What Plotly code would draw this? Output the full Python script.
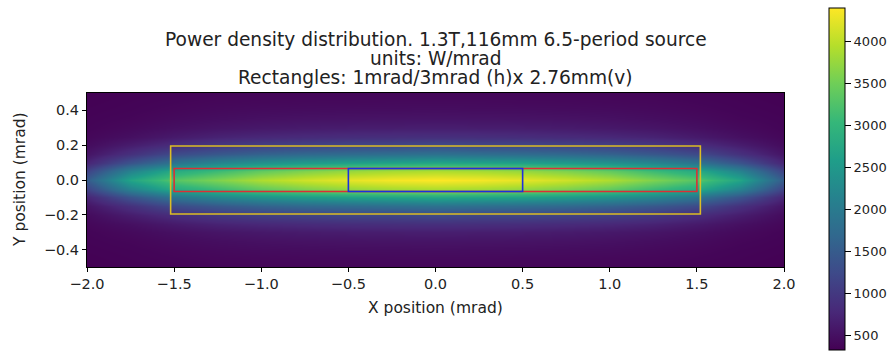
import plotly.graph_objects as go

# ---- data ----
x_mrad = [-2.0, -1.75, -1.5, -1.25, -1.0, -0.75, -0.5, -0.25, 0.0,
          0.25, 0.5, 0.75, 1.0, 1.25, 1.5, 1.75, 2.0]
y_mrad = [-0.5, -0.45, -0.4, -0.35, -0.3, -0.25, -0.2, -0.15, -0.1, -0.05, 0.0,
          0.05, 0.1, 0.15, 0.2, 0.25, 0.3, 0.35, 0.4, 0.45, 0.5]

row_m050 = [330, 350, 360, 380, 390, 390, 400, 400, 400, 400, 400, 390, 390, 380, 360, 350, 330]
row_m045 = [340, 360, 380, 400, 410, 420, 420, 430, 430, 430, 420, 420, 410, 400, 380, 360, 340]
row_m040 = [350, 370, 400, 430, 450, 460, 470, 470, 480, 470, 470, 460, 450, 430, 400, 370, 350]
row_m035 = [360, 390, 440, 480, 510, 530, 540, 550, 550, 550, 540, 530, 510, 480, 440, 390, 360]
row_m030 = [370, 430, 500, 560, 600, 630, 650, 660, 670, 660, 650, 630, 600, 560, 500, 430, 370]
row_m025 = [400, 500, 620, 720, 780, 820, 850, 870, 880, 870, 850, 820, 780, 720, 620, 500, 400]
row_m020 = [450, 650, 850, 1000, 1100, 1150, 1200, 1200, 1250, 1200, 1200, 1150, 1100, 1000, 850, 650, 450]
row_m015 = [550, 900, 1250, 1450, 1600, 1700, 1750, 1800, 1850, 1800, 1750, 1700, 1600, 1450, 1250, 900, 550]
row_m010 = [750, 1400, 1900, 2200, 2400, 2550, 2650, 2700, 2750, 2700, 2650, 2550, 2400, 2200, 1900, 1400, 750]
row_m005 = [1150, 2150, 2800, 3100, 3400, 3600, 3750, 3850, 3900, 3850, 3750, 3600, 3400, 3100, 2800, 2150, 1150]
row_000 = [1500, 2700, 3300, 3600, 3900, 4100, 4250, 4350, 4400, 4350, 4250, 4100, 3900, 3600, 3300, 2700, 1500]
row_p005 = [1150, 2150, 2800, 3100, 3400, 3600, 3750, 3850, 3900, 3850, 3750, 3600, 3400, 3100, 2800, 2150, 1150]
row_p010 = [750, 1400, 1900, 2200, 2400, 2550, 2650, 2700, 2750, 2700, 2650, 2550, 2400, 2200, 1900, 1400, 750]
row_p015 = [550, 900, 1250, 1450, 1600, 1700, 1750, 1800, 1850, 1800, 1750, 1700, 1600, 1450, 1250, 900, 550]
row_p020 = [450, 650, 850, 1000, 1100, 1150, 1200, 1200, 1250, 1200, 1200, 1150, 1100, 1000, 850, 650, 450]
row_p025 = [400, 500, 620, 720, 780, 820, 850, 870, 880, 870, 850, 820, 780, 720, 620, 500, 400]
row_p030 = [370, 430, 500, 560, 600, 630, 650, 660, 670, 660, 650, 630, 600, 560, 500, 430, 370]
row_p035 = [360, 390, 440, 480, 510, 530, 540, 550, 550, 550, 540, 530, 510, 480, 440, 390, 360]
row_p040 = [350, 370, 400, 430, 450, 460, 470, 470, 480, 470, 470, 460, 450, 430, 400, 370, 350]
row_p045 = [340, 360, 380, 400, 410, 420, 420, 430, 430, 430, 420, 420, 410, 400, 380, 360, 340]
row_p050 = [330, 350, 360, 380, 390, 390, 400, 400, 400, 400, 400, 390, 390, 380, 360, 350, 330]

power_density = [row_m050, row_m045, row_m040, row_m035, row_m030, row_m025, row_m020,
                 row_m015, row_m010, row_m005, row_000, row_p005, row_p010, row_p015,
                 row_p020, row_p025, row_p030, row_p035, row_p040, row_p045, row_p050]

colorbar_ticks = [500, 1000, 1500, 2000, 2500, 3000, 3500, 4000]
x_ticks = [-2.0, -1.5, -1.0, -0.5, 0.0, 0.5, 1.0, 1.5, 2.0]
x_ticktext = ["\u22122.0", "\u22121.5", "\u22121.0", "\u22120.5", "0.0", "0.5", "1.0", "1.5", "2.0"]
y_ticks = [-0.4, -0.2, 0.0, 0.2, 0.4]
y_ticktext = ["\u22120.4", "\u22120.2", "0.0", "0.2", "0.4"]

# rectangles: (x0, x1, y0, y1, colour)
rect_outer = (-1.52, 1.52, -0.195, 0.195, "#dcbc24")
rect_red = (-1.5, 1.5, -0.066, 0.066, "#dc2f36")
rect_blue = (-0.5, 0.5, -0.066, 0.066, "#1c2fe0")

title_lines = ["Power density distribution. 1.3T,116mm 6.5-period source",
               "units: W/mrad",
               "Rectangles: 1mrad/3mrad (h)x 2.76mm(v)"]

FONT = "DejaVu Sans"
TXT = "#222222"
W, H = 895, 354
L, R, T, B = 87, 111, 93, 87
PW, PH = W - L - R, H - T - B

fig = go.Figure()
fig.add_trace(go.Heatmap(
    x=x_mrad, y=y_mrad, z=power_density,
    colorscale="Viridis", zmin=330, zmax=4400, zsmooth="best",
    colorbar=dict(
        tickvals=colorbar_ticks, ticks="outside", ticklen=6, tickcolor="black",
        tickprefix="\u2002",
        thickness=16, lenmode="pixels", len=342,
        x=(829 - L) / PW, xanchor="left", xpad=0,
        y=(H - B - 179) / PH, yanchor="middle", ypad=0,
        outlinewidth=1, outlinecolor="black",
        tickfont=dict(family=FONT, size=13, color=TXT),
    ),
))

for (x0, x1, y0, y1, col) in (rect_outer, rect_red, rect_blue):
    fig.add_shape(type="rect", xref="x", yref="y", x0=x0, x1=x1, y0=y0, y1=y1,
                  line=dict(color=col, width=1.6), fillcolor="rgba(0,0,0,0)")

# three title lines (tight matplotlib-like spacing)
title_centers_px = [39, 58.5, 77.5]
for line, ypx in zip(title_lines, title_centers_px):
    fig.add_annotation(text=line, xref="paper", yref="paper",
                       x=(435.5 - L) / PW, y=(H - B - ypx) / PH,
                       xanchor="center", yanchor="middle", showarrow=False,
                       font=dict(family=FONT, size=18.6, color=TXT))

# axis titles
fig.add_annotation(text="X position (mrad)", xref="paper", yref="paper",
                   x=(435.5 - L) / PW, y=(H - B - 308) / PH,
                   xanchor="center", yanchor="middle", showarrow=False,
                   font=dict(family=FONT, size=15.5, color=TXT))
fig.add_annotation(text="Y position (mrad)", xref="paper", yref="paper",
                   x=(20 - L) / PW, y=(H - B - 180) / PH, textangle=-90,
                   xanchor="center", yanchor="middle", showarrow=False,
                   font=dict(family=FONT, size=15.5, color=TXT))

fig.update_layout(
    width=W, height=H,
    margin=dict(l=L, r=R, t=T, b=B, autoexpand=False),
    paper_bgcolor="white", plot_bgcolor="white",
    font=dict(family=FONT, size=14.5, color=TXT),
)
fig.update_xaxes(range=[-2, 2], tickvals=x_ticks, ticktext=x_ticktext,
                 ticks="outside", ticklen=4, tickcolor="black",
                 tickfont=dict(family=FONT, size=14.5, color=TXT),
                 showline=True, linecolor="black", linewidth=1, mirror=True,
                 showgrid=False, zeroline=False, automargin=False)
fig.update_yaxes(range=[-0.5, 0.5], tickvals=y_ticks, ticktext=y_ticktext,
                 ticks="outside", ticklen=4, tickcolor="black",
                 tickfont=dict(family=FONT, size=14.5, color=TXT),
                 showline=True, linecolor="black", linewidth=1, mirror=True,
                 showgrid=False, zeroline=False, automargin=False)

fig.write_html("out.html", config={"displayModeBar": False},
               post_script=["document.body.style.margin='0';"])
